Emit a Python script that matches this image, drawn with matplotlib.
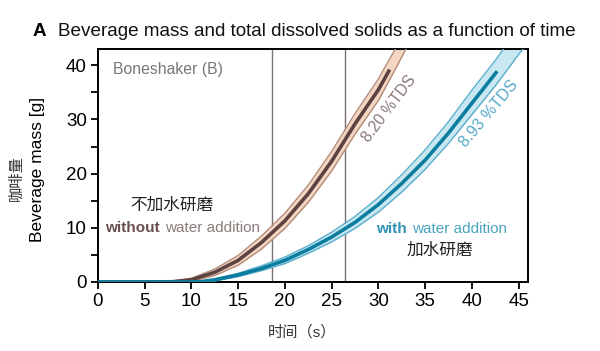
import matplotlib
matplotlib.use('Agg')
import matplotlib.pyplot as plt
from matplotlib.ticker import MultipleLocator

plt.rcParams['font.family'] = ['Liberation Sans', 'Noto Sans CJK SC', 'DejaVu Sans']

# brown curve: without water addition
brown_t = [0, 5, 8, 10, 12.5, 15, 17.5, 20, 22.5, 25, 27.5, 30, 31.2]
brown_m = [0, 0, 0.05, 0.4, 1.8, 4.0, 7.3, 11.3, 16.3, 22.3, 29.2, 35.5, 39.2]
brown_band_t = [0, 5, 8, 10, 12.5, 15, 17.5, 20, 22.5, 25, 27.5, 30, 32, 33, 34]
brown_upper = [0.1, 0.1, 0.2, 0.7, 2.4, 4.9, 8.5, 12.7, 17.9, 24.1, 31.1, 37.5, 43.6, 46.9, 50.0]
brown_lower = [0, 0, 0, 0.1, 1.2, 3.1, 6.1, 9.9, 14.7, 20.5, 27.3, 33.5, 39.9, 43.2, 46.4]

# blue curve: with water addition
blue_t = [0, 5, 10, 11, 12.5, 15, 17.5, 20, 22.5, 25, 27.5, 30, 32.5, 35, 37.5, 40, 42.7]
blue_m = [0, 0, 0, 0.05, 0.4, 1.3, 2.5, 4.0, 6.0, 8.3, 11.0, 14.3, 18.2, 22.5, 27.5, 33.0, 38.9]
blue_band_t = [0, 5, 10, 11, 12.5, 15, 17.5, 20, 22.5, 25, 27.5, 30, 32.5, 35, 37.5, 40, 42.5, 43.5, 45, 46]
blue_upper = [0, 0, 0.05, 0.15, 0.6, 1.6, 3.0, 4.6, 6.7, 9.2, 12.1, 15.6, 19.8, 24.4, 29.6, 35.4, 40.9, 43.3, 46.7, 49.0]
blue_lower = [0, 0, 0, 0, 0.2, 1.0, 2.1, 3.4, 5.3, 7.4, 9.9, 12.9, 16.6, 20.8, 25.6, 30.9, 36.2, 38.5, 42.0, 44.2]

# vertical marker lines
v_lines = [18.6, 26.4]

fig = plt.figure(figsize=(6, 3.51), dpi=100)
ax = fig.add_axes([0.1633, 0.1966, 0.7167, 0.6638])

for x in v_lines:
    ax.axvline(x, color='#7a7070', lw=1.0, zorder=1)

# brown band
ax.fill_between(brown_band_t, brown_lower, brown_upper, color='#f5d6c2', lw=0, zorder=2)
ax.plot(brown_band_t, brown_upper, color='#b48c7a', lw=1.0, zorder=3)
ax.plot(brown_band_t, brown_lower, color='#b48c7a', lw=1.0, zorder=3)
ax.plot(brown_t, brown_m, color='#5d4242', lw=2.6, solid_capstyle='butt', zorder=4)

# blue band
ax.fill_between(blue_band_t, blue_lower, blue_upper, color='#c8e7f1', lw=0, zorder=2)
ax.plot(blue_band_t, blue_upper, color='#5aaecb', lw=1.0, zorder=3)
ax.plot(blue_band_t, blue_lower, color='#5aaecb', lw=1.0, zorder=3)
ax.plot(blue_t, blue_m, color='#0c7d9e', lw=2.6, solid_capstyle='butt', zorder=4)

ax.set_xlim(0, 46)
ax.set_ylim(0, 43)
ax.xaxis.set_major_locator(MultipleLocator(5))
ax.yaxis.set_major_locator(MultipleLocator(10))
ax.yaxis.set_minor_locator(MultipleLocator(5))
ax.tick_params(which='both', direction='out', length=5, width=1.3, labelsize=13.5, pad=3)
for s in ax.spines.values():
    s.set_linewidth(1.4)

# texts in the plot
ax.text(0.035, 0.912, 'Boneshaker (B)', transform=ax.transAxes, fontsize=11.3,
        color='#777777', va='center', ha='left')
ax.text(7.9, 14.2, '不加水研磨', fontsize=12, color='#222222', ha='center', va='center')
ax.text(6.6, 9.9, 'without', fontsize=11, color='#6a4f4f', fontweight='bold',
        ha='right', va='center')
ax.text(7.2, 9.9, 'water addition', fontsize=11, color='#8c7b7b', ha='left', va='center')
ax.text(33.05, 9.7, 'with', fontsize=11, color='#2f93b3', fontweight='bold',
        ha='right', va='center')
ax.text(33.6, 9.7, 'water addition', fontsize=11, color='#4aa3c0', ha='left', va='center')
ax.text(36.6, 5.8, '加水研磨', fontsize=12, color='#222222', ha='center', va='center')

ax.text(31.2, 32.0, '8.20 %TDS', fontsize=11.2, color='#8a7878', rotation=53,
        ha='center', va='center', rotation_mode='anchor')
ax.text(41.8, 31.0, '8.93 %TDS', fontsize=11.5, color='#55a8c6', rotation=50,
        ha='center', va='center', rotation_mode='anchor')

# axis labels
fig.text(0.063, 0.516, 'Beverage mass [g]', rotation=90, fontsize=12.5,
         ha='center', va='center')
fig.text(0.027, 0.493, '咖啡量', rotation=90, fontsize=11, color='#333333',
         ha='center', va='center')
fig.text(0.503, 0.054, '时间（s）', fontsize=11, color='#333333',
         ha='center', va='center')

# title
fig.text(0.055, 0.909, 'A', fontsize=13.6, fontweight='bold', va='center', ha='left')
fig.text(0.097, 0.909, 'Beverage mass and total dissolved solids as a function of time',
         fontsize=13.6, va='center', ha='left', color='#111111')

fig.savefig('out.png', dpi=100)
